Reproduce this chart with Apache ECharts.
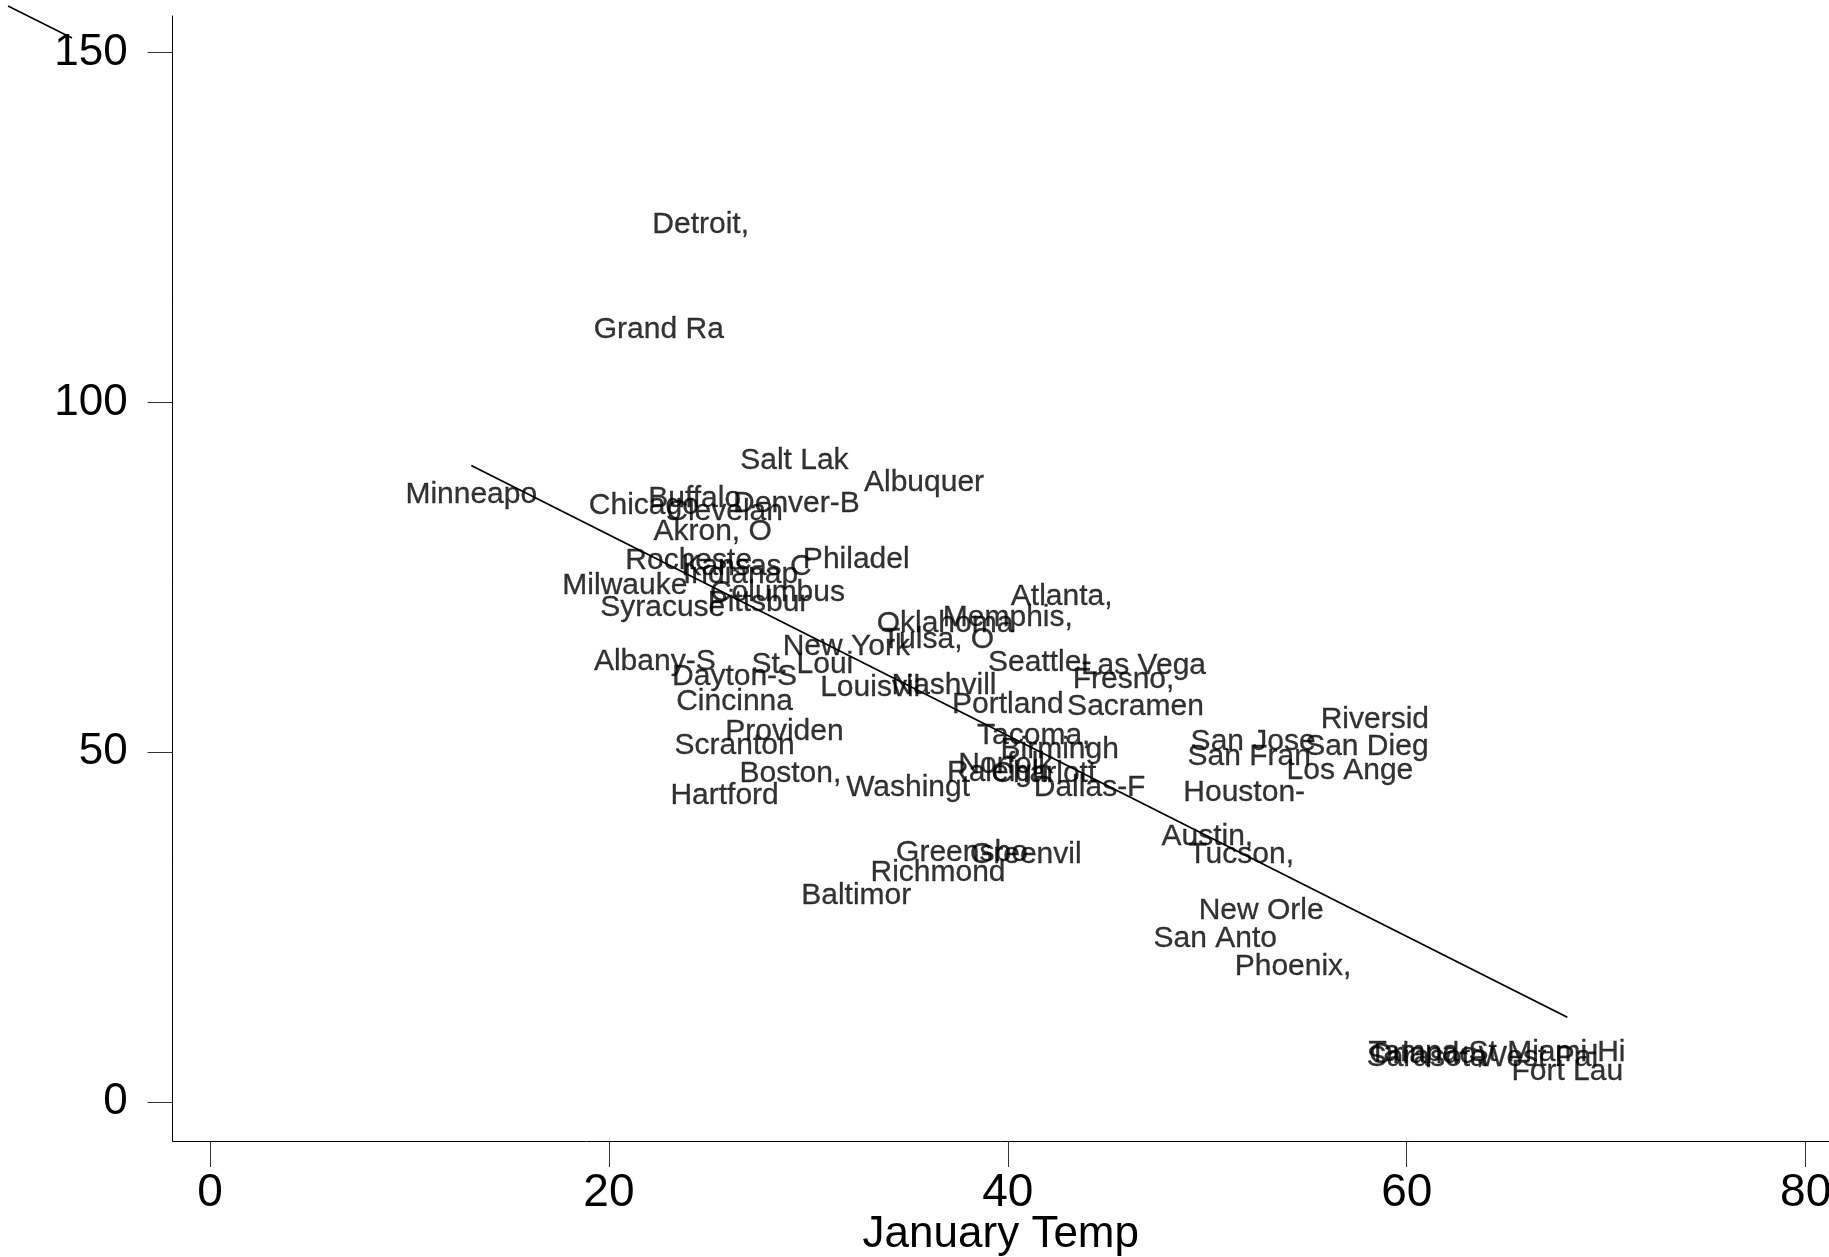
<!DOCTYPE html>
<html>
<head>
<meta charset="utf-8">
<script src="https://cdn.jsdelivr.net/npm/echarts@6/dist/echarts.min.js"></script>
<style>
  html, body { margin: 0; padding: 0; background: #fff; }
  #chart { width: 1829px; height: 1257px; }
</style>
</head>
<body>
<div id="chart"></div>
<script>
// Metro areas (names truncated to 8 characters), January temperature and plotted value
const cities = [
  'Detroit,', 'Grand Ra', 'Salt Lak', 'Albuquer', 'Minneapo', 'Chicago', 'Buffalo', 'Clevelan',
  'Denver-B', 'Akron, O', 'Rocheste', 'Kansas C', 'Indianap', 'Philadel', 'Milwauke', 'Columbus',
  'Pittsbur', 'Syracuse', 'Albany-S', 'Dayton-S', 'St. Loui', 'Cincinna', 'New York', 'Louisvil',
  'Nashvill', 'Providen', 'Scranton', 'Boston,', 'Hartford', 'Washingt', 'Oklahoma', 'Tulsa, O',
  'Memphis,', 'Atlanta,', 'Seattle-', 'Las Vega', 'Fresno,', 'Portland', 'Sacramen', 'Tacoma,',
  'Birmingh', 'Norfolk', 'Raleigh', 'Charlott', 'Dallas-F', 'San Jose', 'San Fran', 'Houston-',
  'Riversid', 'San Dieg', 'Los Ange', 'Austin,', 'Tucson,', 'New Orle', 'San Anto', 'Phoenix,',
  'Greensbo', 'Greenvil', 'Richmond', 'Baltimor', 'Tampa-St', 'Orlando,', 'Sarasota', 'Miami-Hi',
  'West Pal', 'Fort Lau'
];
const janTemp = [
  24.6, 22.5, 29.3, 35.8, 13.1, 21.75, 24.3, 25.8,
  29.4, 25.2, 24.0, 26.9, 26.6, 32.4, 20.8, 28.45,
  27.5, 22.7, 22.3, 26.3, 29.7, 26.3, 31.9, 33.1,
  36.8, 28.8, 26.3, 29.1, 25.8, 35.0, 36.85, 36.5,
  40.0, 42.7, 41.6, 46.8, 45.8, 40.0, 46.4, 41.3,
  42.6, 39.9, 39.5, 41.8, 44.1, 52.3, 52.1, 51.85,
  58.4, 58.0, 57.15, 50.0, 51.7, 52.7, 50.4, 54.3,
  37.7, 40.9, 36.5, 32.4, 61.3, 61.0, 61.0, 68.0,
  66.6, 68.05
];
const yValue = [
  123.9, 108.9, 90.3, 87.1, 85.4, 83.8, 84.8, 82.9,
  84.1, 80.1, 75.9, 75.1, 73.9, 76.1, 72.4, 71.35,
  69.9, 69.3, 61.55, 59.4, 61.1, 55.85, 63.7, 57.8,
  58.1, 51.55, 49.55, 45.5, 42.4, 43.5, 67.0, 64.65,
  67.8, 70.85, 61.4, 60.9, 59.0, 55.4, 55.1, 51.0,
  48.95, 46.8, 45.6, 45.5, 43.5, 50.1, 47.9, 42.75,
  53.2, 49.4, 46.0, 36.55, 33.9, 25.9, 21.9, 17.9,
  34.2, 33.9, 31.4, 28.1, 5.7, 5.4, 4.9, 5.7,
  4.9, 2.9
];
const xTicks = [0, 20, 40, 60, 80];
const yTicks = [0, 50, 100, 150];

// Least-squares line over the observed temperature range
function linearFit(xs, ys) {
  const n = xs.length;
  const mx = xs.reduce((a, b) => a + b, 0) / n;
  const my = ys.reduce((a, b) => a + b, 0) / n;
  let sxy = 0, sxx = 0;
  for (let i = 0; i < n; i++) {
    sxy += (xs[i] - mx) * (ys[i] - my);
    sxx += (xs[i] - mx) * (xs[i] - mx);
  }
  const b = sxy / sxx;
  const a = my - b * mx;
  const lo = Math.min(...xs), hi = Math.max(...xs);
  return [[lo, a + b * lo], [hi, a + b * hi]];
}

const pts = cities.map((c, i) => [janTemp[i], yValue[i], c]);
const FONT = '"Liberation Sans", Arial, Helvetica, sans-serif';

const chart = echarts.init(document.getElementById('chart'), null, { renderer: 'canvas' });
chart.setOption({
  backgroundColor: '#ffffff',
  animation: false,
  grid: { left: 172.6, right: 0, top: 16, bottom: 116, containLabel: false, outerBoundsMode: 'none' },
  xAxis: {
    type: 'value',
    min: -1.875, max: 81.17,
    name: 'January Temp',
    nameLocation: 'middle',
    nameGap: 72,
    nameMoveOverlap: false,
    nameTextStyle: { fontFamily: FONT, fontSize: 44, color: '#000', verticalAlign: 'top' },
    splitLine: { show: false },
    axisLine: { show: true, onZero: false, lineStyle: { color: '#000', width: 1 } },
    axisTick: { show: true, length: 26, customValues: xTicks, lineStyle: { color: '#333', width: 1 } },
    axisLabel: { customValues: xTicks, margin: 29, fontFamily: FONT, fontSize: 46, color: '#000', hideOverlap: false }
  },
  yAxis: {
    type: 'value',
    min: -5.53, max: 155.2,
    splitLine: { show: false },
    axisLine: { show: true, onZero: false, lineStyle: { color: '#000', width: 1 } },
    axisTick: { show: true, length: 25, customValues: yTicks, lineStyle: { color: '#333', width: 1 } },
    axisLabel: { customValues: yTicks, margin: 45, fontFamily: FONT, fontSize: 44, color: '#000' }
  },
  graphic: [{
    type: 'line',
    shape: { x1: 8, y1: 6, x2: 72, y2: 38 },
    style: { stroke: '#000', lineWidth: 1.5 },
    silent: true,
    z: 100
  }],
  series: [
    {
      type: 'scatter',
      data: pts,
      symbolSize: 1,
      itemStyle: { color: 'transparent' },
      silent: true,
      label: {
        show: true,
        // names sit centred a little above their point
        position: [0.5, -9.5],
        align: 'center',
        verticalAlign: 'middle',
        formatter: p => p.data[2],
        fontFamily: FONT,
        fontSize: 30,
        color: '#000',
        textBorderColor: '#000',
        textBorderWidth: 0.3
      },
      labelLayout: { hideOverlap: false }
    },
    {
      type: 'line',
      data: linearFit(janTemp, yValue),
      symbol: 'none',
      silent: true,
      lineStyle: { color: '#000', width: 1.8 }
    }
  ]
});
</script>
</body>
</html>
